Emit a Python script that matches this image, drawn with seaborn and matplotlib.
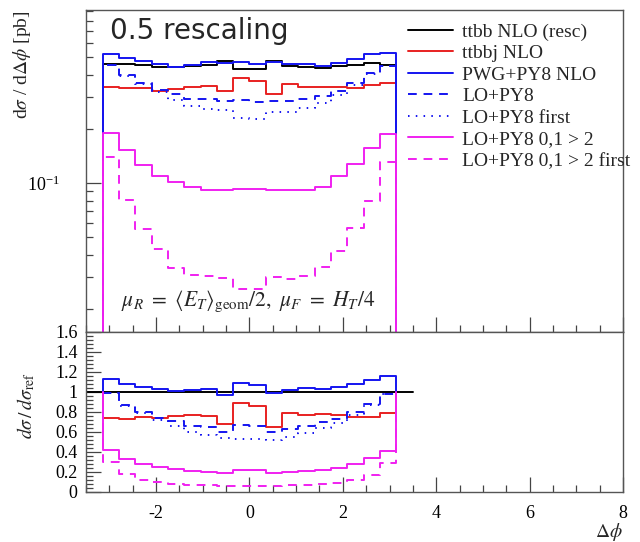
import numpy as np
import pandas as pd
import seaborn as sns
import matplotlib
matplotlib.use("Agg")
import matplotlib.pyplot as plt
from matplotlib.ticker import MultipleLocator, LogLocator, NullFormatter, FuncFormatter

# ---------------- data ----------------
n_bins = 18
phi_range = [-np.pi, np.pi]

ttbb_nlo = [0.458, 0.458, 0.451, 0.443, 0.439, 0.445, 0.454, 0.476, 0.432,
            0.428, 0.478, 0.449, 0.443, 0.435, 0.445, 0.453, 0.464, 0.454]
ttbbj_nlo = [0.340, 0.336, 0.338, 0.326, 0.335, 0.343, 0.345, 0.325, 0.384,
             0.368, 0.311, 0.353, 0.341, 0.341, 0.341, 0.338, 0.349, 0.360]
pwg_py8_nlo = [0.518, 0.495, 0.475, 0.456, 0.443, 0.454, 0.469, 0.462, 0.471,
               0.458, 0.472, 0.458, 0.459, 0.447, 0.467, 0.489, 0.518, 0.527]
lo_py8 = [0.453, 0.400, 0.362, 0.328, 0.312, 0.294, 0.294, 0.286, 0.288,
          0.282, 0.285, 0.284, 0.292, 0.303, 0.324, 0.361, 0.408, 0.446]
lo_py8_first = [0.453, 0.394, 0.356, 0.319, 0.290, 0.268, 0.257, 0.255, 0.230,
                0.227, 0.247, 0.247, 0.262, 0.280, 0.308, 0.349, 0.404, 0.445]
lo_py8_012 = [0.191, 0.153, 0.126, 0.109, 0.101, 0.095, 0.092, 0.092, 0.093,
              0.093, 0.0915, 0.091, 0.092, 0.095, 0.109, 0.128, 0.156, 0.188]
lo_py8_012_first = [0.139, 0.081, 0.0556, 0.043, 0.0336, 0.0308, 0.0304, 0.0299, 0.0259,
                    0.0259, 0.030, 0.0293, 0.0304, 0.034, 0.042, 0.056, 0.080, 0.131]

series_labels = ["ttbb NLO (resc)", "ttbbj NLO", "PWG+PY8 NLO", "LO+PY8",
                 "LO+PY8 first", "LO+PY8 0,1 > 2", "LO+PY8 0,1 > 2 first"]
series_values = [ttbb_nlo, ttbbj_nlo, pwg_py8_nlo, lo_py8, lo_py8_first,
                 lo_py8_012, lo_py8_012_first]
series_colors = ["#000000", "#e82020", "#1414f0", "#1414f0", "#1414f0",
                 "#f020f0", "#f020f0"]
series_styles = ["-", "-", "-", (0, (4.5, 3.5)), (0, (0.8, 3.2)), "-", (0, (4.5, 3.5))]

ratio_line_x = [-3.5, 3.5]
x_limits = [-3.5, 8]
y_limits_top = [0.0149, 0.915]
y_limits_ratio = [0, 1.6]

# ---------------- style ----------------
sns.set_style("ticks")
plt.rcParams["font.family"] = ["Liberation Serif", "DejaVu Serif"]
plt.rcParams["mathtext.fontset"] = "stix"
plt.rcParams["axes.unicode_minus"] = False

W, H = 640, 542
fig = plt.figure(figsize=(W / 100, H / 100), dpi=100)
L, R = 86 / W, 623 / W
ax1 = fig.add_axes([L, 1 - 332 / H, R - L, 322 / H])
ax2 = fig.add_axes([L, 1 - 492 / H, R - L, 160 / H])

edges = np.linspace(phi_range[0], phi_range[1], n_bins + 1)


def step_xy(vals, base):
    x = [edges[0]] + list(edges[:-1]) + [edges[-1], edges[-1]]
    y = [base] + list(vals) + [vals[-1], base]
    return x, y


ax1.set_yscale("log")
handles = []
ref = np.array(ttbb_nlo)
for vals, lab, col, ls in zip(series_values, series_labels, series_colors, series_styles):
    x, y = step_xy(vals, 1e-3)
    sns.lineplot(x=x, y=y, ax=ax1, color=col, linestyle=ls, lw=1.4,
                 drawstyle="steps-post", sort=False, estimator=None)
    handles.append(ax1.lines[-1])

# ratio panel
sns.lineplot(x=ratio_line_x, y=[1, 1], ax=ax2, color="black", lw=1.4,
             sort=False, estimator=None)
for vals, col, ls in zip(series_values[1:], series_colors[1:], series_styles[1:]):
    ratio = np.array(vals) / ref
    x, y = step_xy(ratio, 1.0)
    sns.lineplot(x=x, y=y, ax=ax2, color=col, linestyle=ls, lw=1.4,
                 drawstyle="steps-post", sort=False, estimator=None)

# axes settings
for ax in (ax1, ax2):
    ax.set_xlim(*x_limits)
    ax.xaxis.set_major_locator(MultipleLocator(2))
    ax.xaxis.set_minor_locator(MultipleLocator(0.5))
    ax.tick_params(which="both", direction="in", top=False, right=False,
                   left=True, bottom=True, colors="#444444")
    ax.tick_params(which="major", length=11, width=0.9)
    ax.tick_params(which="minor", length=5, width=0.9)
    for sp in ax.spines.values():
        sp.set_color("#555555")
        sp.set_linewidth(1.0)
    ax.set_xlabel("")
    ax.set_ylabel("")

ax1.set_ylim(*y_limits_top)
ax1.yaxis.set_major_locator(LogLocator(base=10))
ax1.yaxis.set_minor_locator(LogLocator(base=10, subs=np.arange(2, 10)))
ax1.yaxis.set_minor_formatter(NullFormatter())
ax1.tick_params(axis="x", labelbottom=False)
ax1.tick_params(axis="y", which="major", pad=19, labelsize=13, labelcolor="black")

ax2.set_ylim(*y_limits_ratio)
ax2.yaxis.set_major_locator(MultipleLocator(0.2))
ax2.yaxis.set_minor_locator(MultipleLocator(0.04))
ax2.yaxis.set_major_formatter(FuncFormatter(lambda v, p: "%g" % round(v, 2)))
ax2.tick_params(axis="y", which="major", pad=6, labelsize=13, labelcolor="black")
ax2.tick_params(axis="x", which="major", pad=9, labelsize=13, labelcolor="black")

# texts
ax1.text(0.045, 0.909, "0.5 rescaling", transform=ax1.transAxes, fontsize=20,
         family="DejaVu Sans", ha="left", va="baseline")
ax1.text(0.302, 0.095,
         r"$\mu_R\ =\ \langle E_T\rangle_{\rm geom}/2,\ \mu_F\ =\ H_T/4$",
         transform=ax1.transAxes, fontsize=15.5, ha="center", va="center")
fig.text(22 / W, 1 - 10 / H, r"d$\sigma$ / d$\Delta\phi$ [pb]", rotation=90,
         ha="center", va="top", fontsize=14)
fig.text(26 / W, 1 - 406 / H, r"$d\sigma\,/\,d\sigma_{\rm ref}$", rotation=90,
         ha="center", va="center", fontsize=14)
fig.text(623 / W, 1 - 532 / H, r"$\Delta\phi$", ha="right", va="center", fontsize=14)

leg = ax1.legend(handles, series_labels, loc="upper left",
                 bbox_to_anchor=(408 / W, 1 - 23 / H), bbox_transform=fig.transFigure,
                 frameon=False, borderpad=0, borderaxespad=0, handlelength=2.3,
                 handletextpad=0.5, labelspacing=0.2, fontsize=14)

fig.savefig("out.png", dpi=100)
